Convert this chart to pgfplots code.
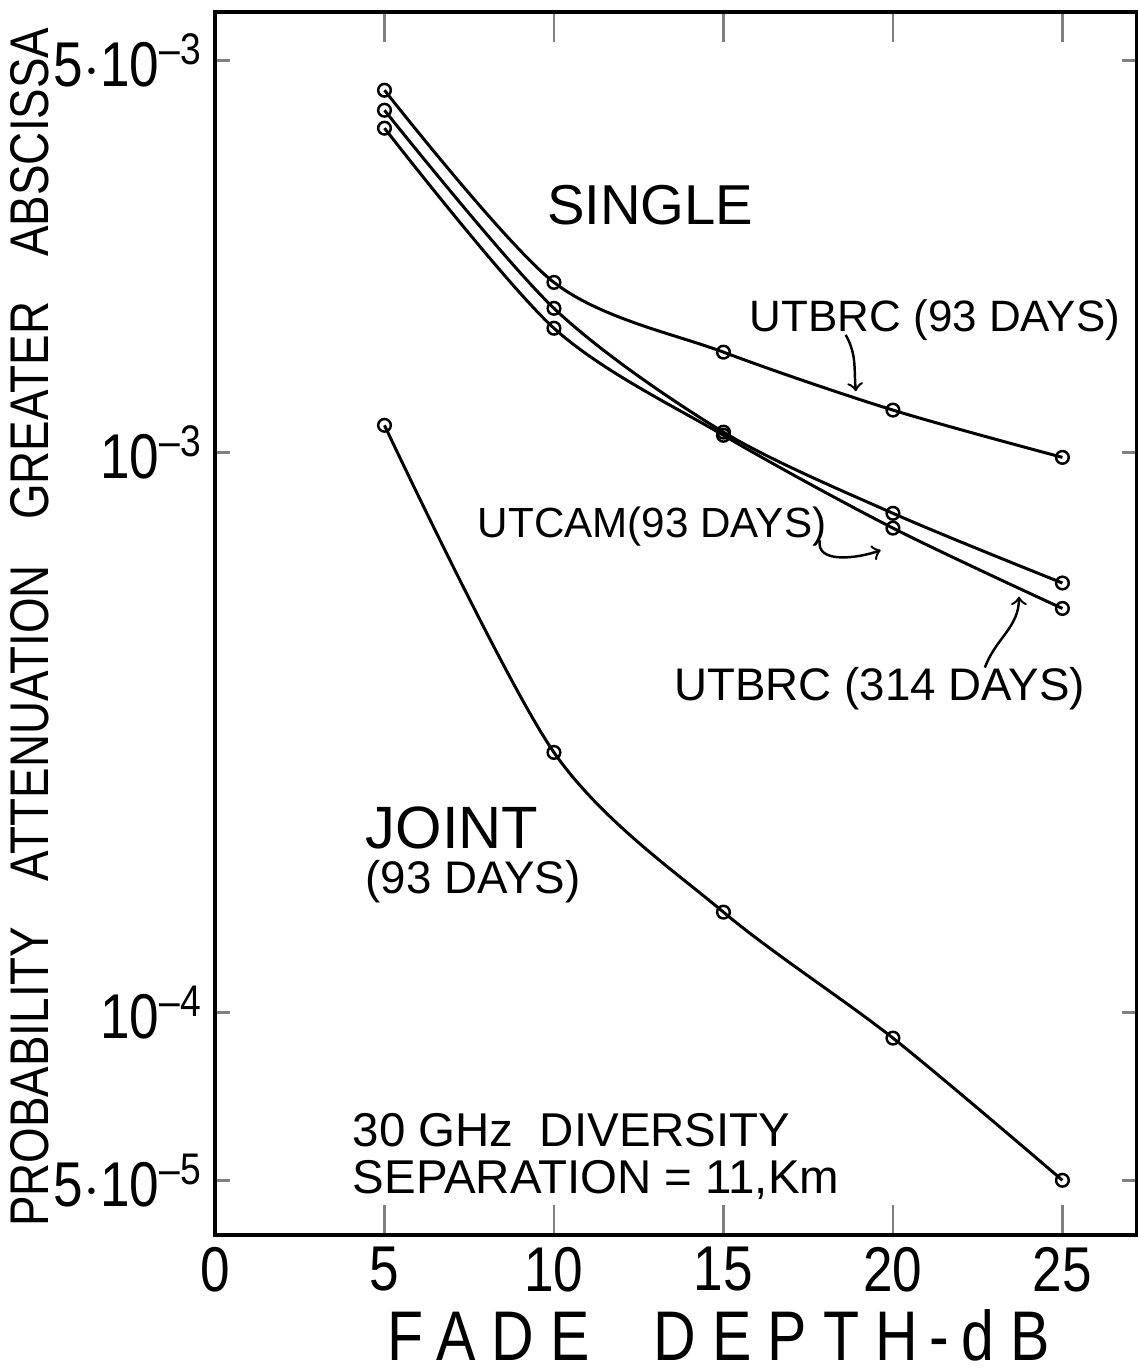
\documentclass[border=0pt]{standalone}
\usepackage{pgfplots}
\pgfplotsset{compat=1.18}
\usepackage{fontspec}
\setmainfont{Liberation Sans}
\newfontfamily\cf[FakeStretch=0.84]{Liberation Sans}
\newfontfamily\cfl[FakeStretch=0.84, LetterSpace=23]{Liberation Sans}
\pgfplotsset{curve/.style={black, line width=0.85pt, smooth, tension=0.5, mark=o, mark size=1.8pt, mark options={solid, fill=white, line width=0.7pt}}}
\begin{document}
\begin{tikzpicture}
\begin{axis}[
  scale only axis, width=9.22cm, height=12.23cm,
  ymode=log, xmin=0, xmax=27.2, ymin=4.0e-5, ymax=6.11e-3,
  xtick={0,5,10,15,20,25},
  ytick={5e-5,1e-4,1e-3,5e-3},
  yticklabels={5$\cdot$10\textsuperscript{–5}, 10\textsuperscript{–4}, 10\textsuperscript{–3}, 5$\cdot$10\textsuperscript{–3}},
  yminorticks=false,
  tick align=inside,
  xtick style={/pgfplots/major tick length=0.3cm, line width=0.8pt},
  ytick style={/pgfplots/major tick length=0.15cm, line width=0.8pt},
  axis line style={line width=0.9pt},
  ticklabel style={font=\cf\fontsize{18}{20}\selectfont},
  /pgf/number format/assume math mode=true,
  clip=false,
]
% UTBRC (93 days)
\addplot[curve] coordinates {(5,4.43e-3) (10,2.01e-3) (15,1.509e-3) (20,1.189e-3) (25,0.979e-3)};
% UTCAM (93 days)
\addplot[curve] coordinates {(5,4.08e-3) (10,1.807e-3) (15,1.086e-3) (20,0.778e-3) (25,0.584e-3)};
% UTBRC (314 days)
\addplot[curve] coordinates {(5,3.79e-3) (10,1.665e-3) (15,1.072e-3) (20,0.732e-3) (25,0.526e-3)};
% Joint (93 days)
\addplot[curve] coordinates {(5,1.117e-3) (10,2.91e-4) (15,1.509e-4) (20,8.99e-5) (25,5.01e-5)};

\node[font=\fontsize{16}{18}\selectfont] at (rel axis cs:0.472,0.842) {SINGLE};
\node[font=\fontsize{12.5}{14}\selectfont] at (rel axis cs:0.781,0.748) {UTBRC (93 DAYS)};
\node[font=\fontsize{12}{14}\selectfont] at (rel axis cs:0.474,0.579) {UTCAM(93 DAYS)};
\node[font=\fontsize{13}{15}\selectfont] at (rel axis cs:0.721,0.447) {UTBRC (314 DAYS)};
\node[font=\fontsize{17}{19}\selectfont, anchor=west] at (rel axis cs:0.150,0.333) {JOINT};
\node[font=\fontsize{13}{15}\selectfont, anchor=west] at (rel axis cs:0.150,0.289) {(93 DAYS)};
\node[font=\fontsize{13.5}{15}\selectfont, anchor=west] at (rel axis cs:0.136,0.086) {30 GHz\ \ DIVERSITY};
\node[font=\fontsize{13.5}{15}\selectfont, anchor=west] at (rel axis cs:0.136,0.045) {SEPARATION = 11,Km};

\draw[->, line width=0.7pt] (rel axis cs:0.684,0.736) to[out=-60,in=95] (rel axis cs:0.695,0.690);
\draw[->, line width=0.7pt] (rel axis cs:0.656,0.568) to[out=-100,in=200] (rel axis cs:0.722,0.560);
\draw[->, line width=0.7pt] (rel axis cs:0.835,0.464) to[out=70,in=-90] (rel axis cs:0.872,0.522);

\node[rotate=90, font=\cf\fontsize{15.5}{18}\selectfont] at (rel axis cs:-0.2007,0.497) {PROBABILITY\hspace{0.6em} ATTENUATION\hspace{0.6em} GREATER\hspace{0.6em} ABSCISSA};
\node[font=\cfl\fontsize{20}{22}\selectfont] at (rel axis cs:0.546,-0.082) {FADE\hspace{0.9em}DEPTH\,-\,dB};
\end{axis}
\pgfresetboundingbox
\path ([xshift=-2.15cm,yshift=-1.36cm]current axis.south west) rectangle ([yshift=0.12cm]current axis.north east);
\end{tikzpicture}
\end{document}
